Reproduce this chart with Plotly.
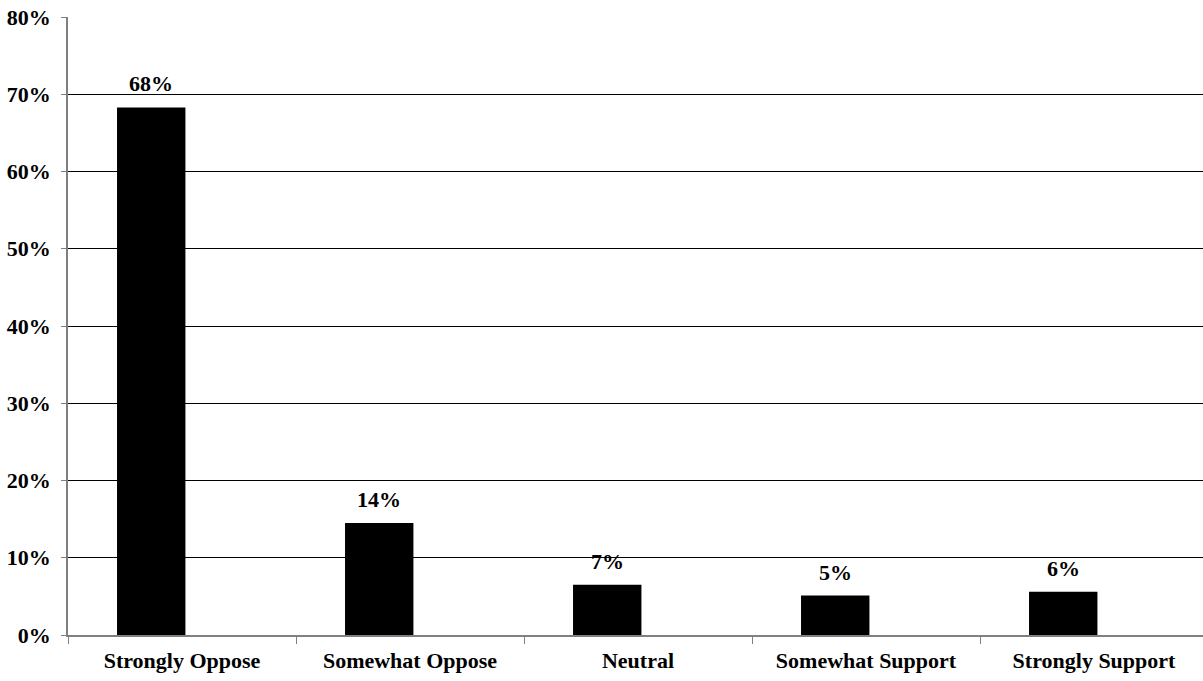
import plotly.graph_objects as go

categories = ["Strongly Oppose", "Somewhat Oppose", "Neutral", "Somewhat Support", "Strongly Support"]
values = [0.683, 0.145, 0.065, 0.051, 0.056]
labels = ["68%", "14%", "7%", "5%", "6%"]
y_ticks = [0, 0.1, 0.2, 0.3, 0.4, 0.5, 0.6, 0.7, 0.8]
y_ticktext = ["0%", "10%", "20%", "30%", "40%", "50%", "60%", "70%", "80%"]

FONT = "Liberation Serif, Times New Roman, serif"
BAR_WIDTH = 0.30
BAR_OFFSET = -0.285

fig = go.Figure()
fig.add_trace(go.Bar(
    x=categories,
    y=values,
    marker=dict(color="black", line=dict(width=0)),
    width=BAR_WIDTH,
    offset=BAR_OFFSET,
    hoverinfo="x+y",
))

for cat, val, lab in zip(categories, values, labels):
    fig.add_annotation(
        x=cat, y=val, text=lab, showarrow=False,
        xanchor="center", yanchor="bottom",
        xshift=-31, yshift=9,
        font=dict(family=FONT, size=22, color="black", weight="bold"),
    )

fig.update_layout(
    width=1203,
    height=681,
    margin=dict(l=68, r=0, t=17, b=46, autoexpand=False),
    paper_bgcolor="white",
    plot_bgcolor="white",
    showlegend=False,
    font=dict(family=FONT, size=22, color="black"),
    xaxis=dict(
        range=[-0.5, 4.478],
        automargin=False,
        tickson="boundaries",
        ticks="outside",
        ticklen=7,
        tickcolor="#808080",
        showline=True,
        linecolor="#808080",
        linewidth=1.5,
        showgrid=False,
        ticklabelstandoff=5,
        tickfont=dict(family=FONT, size=22, color="black", weight="bold"),
    ),
    yaxis=dict(
        range=[0, 0.8],
        automargin=False,
        tickvals=y_ticks,
        ticktext=y_ticktext,
        ticks="outside",
        ticklen=5,
        tickcolor="#808080",
        showline=True,
        linecolor="#808080",
        linewidth=1.5,
        showgrid=True,
        gridcolor="black",
        gridwidth=1,
        zeroline=False,
        ticklabelstandoff=6,
        tickfont=dict(family=FONT, size=22, color="black", weight="bold"),
    ),
)

fig.write_html(
    "out.html",
    config={"displayModeBar": False},
    post_script="document.body.style.margin='0';document.body.style.overflow='hidden';",
)
